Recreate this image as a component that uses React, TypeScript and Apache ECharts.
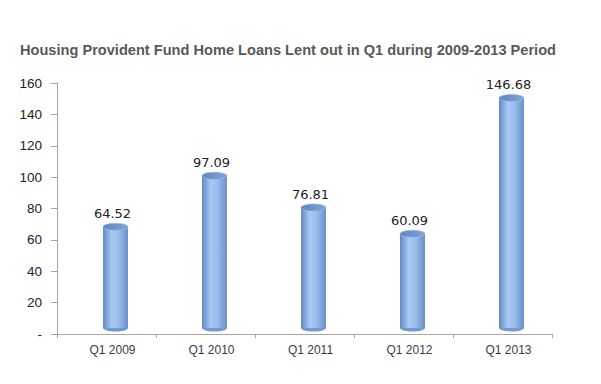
import React, { useEffect, useRef } from "react";
import * as echarts from "echarts";

const categories = ["Q1 2009", "Q1 2010", "Q1 2011", "Q1 2012", "Q1 2013"];
const loans = [64.52, 97.09, 76.81, 60.09, 146.68];
const titleText = "Housing Provident Fund Home Loans Lent out in Q1 during 2009-2013 Period";

export default function App() {
  const ref = useRef<HTMLDivElement>(null);
  useEffect(() => {
    if (!ref.current) return;
    const chart = echarts.init(ref.current, undefined, { renderer: "svg" });
    const DX = 9;
    const DY = -6;
    const W = 25;
    const RY = 3.5;
    const bodyFill = new echarts.graphic.LinearGradient(0, 0, 1, 0, [
      { offset: 0, color: "#6289c4" },
      { offset: 0.35, color: "#a8c8f2" },
      { offset: 0.6, color: "#9cbeee" },
      { offset: 1, color: "#6a90c9" },
    ]);
    const topFill = new echarts.graphic.LinearGradient(0, 0, 1, 0, [
      { offset: 0, color: "#5f85c0" },
      { offset: 1, color: "#82a6d8" },
    ]);
    chart.setOption({
      animation: false,
      title: {
        text: titleText,
        left: 7,
        top: 29,
        textStyle: {
          fontFamily: "Liberation Sans, Arial, sans-serif",
          fontSize: 14.6,
          fontWeight: "bold",
          color: "#595959",
        },
      },
      grid: { left: 49, right: 41, top: 75, bottom: 42 },
      xAxis: {
        type: "category",
        data: categories,
        axisLine: { lineStyle: { color: "#a6a6a6" } },
        axisTick: { show: true, length: 4, lineStyle: { color: "#a6a6a6" } },
        axisLabel: {
          fontFamily: "Liberation Sans, Arial, sans-serif",
          fontSize: 12,
          color: "#3a3a4a",
          margin: 10,
          padding: [0, 0, 0, 12],
        },
      },
      yAxis: {
        type: "value",
        min: 0,
        max: 160,
        interval: 20,
        splitLine: { show: false },
        axisLine: { show: true, lineStyle: { color: "#a6a6a6" } },
        axisTick: { show: true, length: 6, lineStyle: { color: "#a6a6a6" } },
        axisLabel: {
          fontFamily: "Liberation Sans, Arial, sans-serif",
          fontSize: 13.5,
          color: "#222",
          margin: 15,
          formatter: (v: number) => (v === 0 ? "-" : String(v)),
        },
      },
      series: [
        {
          type: "custom",
          data: loans.map((v, i) => [i, v]),
          encode: { x: 0, y: 1 },
          renderItem: (params: any, api: any) => {
            const top = api.coord([api.value(0), api.value(1)]);
            const base = api.coord([api.value(0), 0]);
            const cx = top[0] + DX;
            const ty = top[1] + DY;
            const by = base[1] + DY;
            return {
              type: "group",
              children: [
                {
                  type: "ellipse",
                  shape: { cx, cy: by, rx: W / 2, ry: RY },
                  style: { fill: "#7399cf" },
                },
                {
                  type: "rect",
                  shape: { x: cx - W / 2, y: ty, width: W, height: by - ty },
                  style: { fill: bodyFill },
                },
                {
                  type: "ellipse",
                  shape: { cx, cy: ty, rx: W / 2, ry: RY },
                  style: { fill: topFill, stroke: "#9dbbe6", lineWidth: 0.6 },
                },
                {
                  type: "text",
                  style: {
                    x: cx - 3,
                    y: ty - 13,
                    text: String(api.value(1).toFixed(2)),
                    align: "center",
                    verticalAlign: "middle",
                    fontFamily: "DejaVu Sans, sans-serif",
                    fontSize: 13,
                    fill: "#222",
                  },
                },
              ],
            };
          },
        },
      ],
    });
    return () => chart.dispose();
  }, []);
  return <div ref={ref} style={{ width: 585, height: 368 }} />;
}
